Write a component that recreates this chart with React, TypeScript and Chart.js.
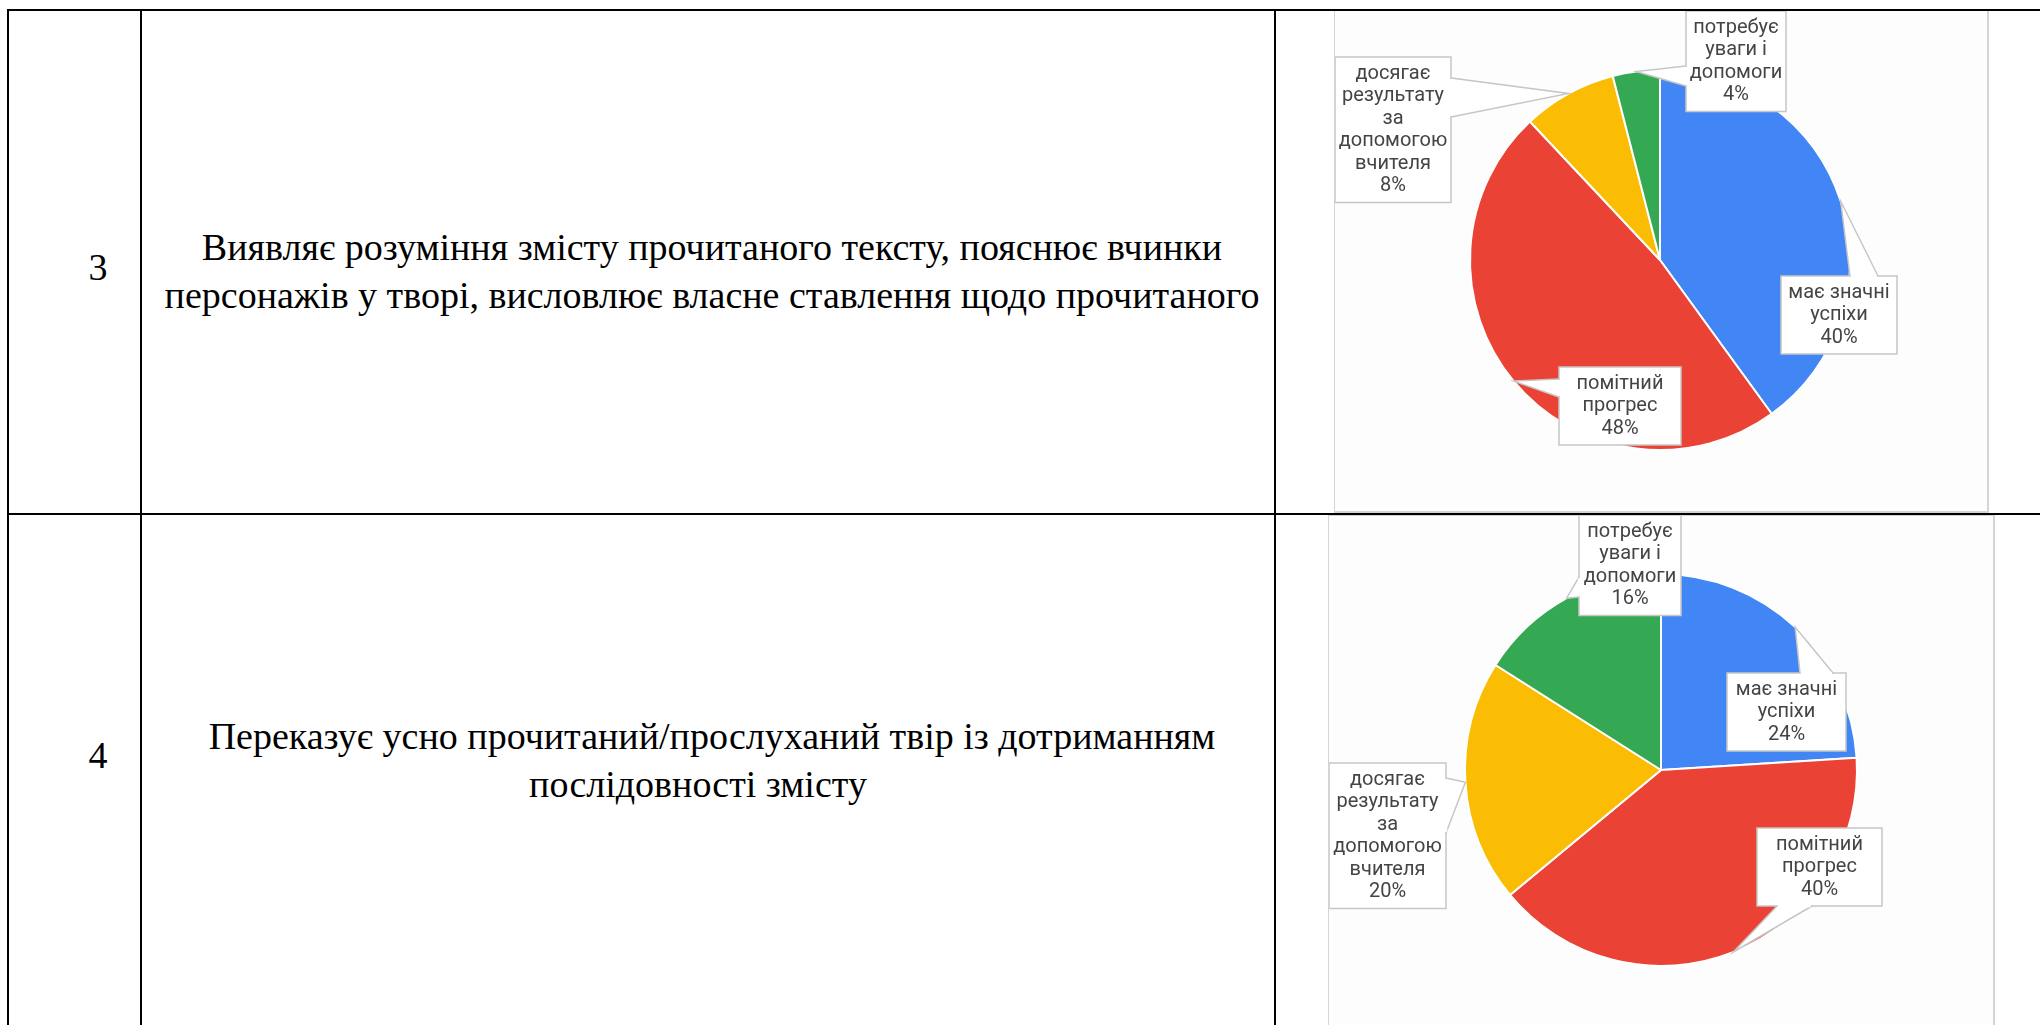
import React, { useEffect, useRef } from 'react';
import { Chart, registerables } from 'chart.js';

Chart.register(...registerables);

// ---- data ----
const categories: string[][] = [
  ['має значні', 'успіхи'],
  ['помітний', 'прогрес'],
  ['досягає', 'результату', 'за', 'допомогою', 'вчителя'],
  ['потребує', 'уваги і', 'допомоги'],
];
const values3 = [40, 48, 8, 4];
const values4 = [24, 40, 20, 16];
const sliceColors = ['#4285F4', '#EA4335', '#FBBC04', '#34A853'];
const rowNumbers = ['3', '4'];
const rowText3 = [
  'Виявляє розуміння змісту прочитаного тексту, пояснює вчинки',
  'персонажів у творі, висловлює власне ставлення щодо прочитаного',
];
const rowText4 = [
  'Переказує усно прочитаний/прослуханий твір із дотриманням',
  'послідовності змісту',
];

// ---- layout (positions only) ----
type Side = 'left' | 'right' | 'top' | 'bottom';
type Callout = { dx: number; dy: number; w: number; side: Side; b0: number; b1: number };
const callouts3: Callout[] = [
  { dx: 121, dy: 16, w: 116, side: 'top', b0: 69, b1: 97 },
  { dx: -101, dy: 107, w: 122, side: 'left', b0: 12, b1: 30 },
  { dx: -325, dy: -203, w: 116, side: 'right', b0: 21, b1: 60 },
  { dx: 26, dy: -249, w: 100, side: 'left', b0: 55, b1: 75 },
];
const callouts4: Callout[] = [
  { dx: 66, dy: -97, w: 119, side: 'top', b0: 73, b1: 106 },
  { dx: 96, dy: 58, w: 125, side: 'bottom', b0: 20, b1: 55 },
  { dx: -332, dy: -7, w: 117, side: 'right', b0: 15, b1: 70 },
  { dx: -82, dy: -255, w: 102, side: 'left', b0: 62, b1: 82 },
];
const lineShift4 = [0, -14];

const PAD = 16.5;
const LINE_H = 22.5;

function makeCalloutPlugin(items: Callout[]) {
  return {
    id: 'callouts',
    afterDatasetsDraw(chart: any) {
      const ctx: CanvasRenderingContext2D = chart.ctx;
      const meta = chart.getDatasetMeta(0);
      const data = chart.data.datasets[0].data as number[];
      const total = data.reduce((a, b) => a + b, 0);
      meta.data.forEach((arc: any, i: number) => {
        const { x, y, startAngle, endAngle, outerRadius } = arc.getProps(
          ['x', 'y', 'startAngle', 'endAngle', 'outerRadius'],
          true
        );
        const mid = (startAngle + endAngle) / 2;
        const ax = x + Math.cos(mid) * outerRadius;
        const ay = y + Math.sin(mid) * outerRadius;
        const c = items[i];
        const lines = [...(chart.data.labels[i] as string[]), Math.round((data[i] / total) * 100) + '%'];
        const h = 2 * PAD + (lines.length - 1) * LINE_H;
        const bx = x + c.dx;
        const by = y + c.dy;
        let p0: [number, number];
        let p1: [number, number];
        if (c.side === 'left') { p0 = [bx, by + c.b0]; p1 = [bx, by + c.b1]; }
        else if (c.side === 'right') { p0 = [bx + c.w, by + c.b0]; p1 = [bx + c.w, by + c.b1]; }
        else if (c.side === 'top') { p0 = [bx + c.b0, by]; p1 = [bx + c.b1, by]; }
        else { p0 = [bx + c.b0, by + h]; p1 = [bx + c.b1, by + h]; }
        ctx.save();
        ctx.fillStyle = '#ffffff';
        ctx.strokeStyle = '#c6c6c6';
        ctx.lineWidth = 1.5;
        ctx.fillRect(bx, by, c.w, h);
        ctx.strokeRect(bx, by, c.w, h);
        ctx.beginPath();
        ctx.moveTo(p0[0], p0[1]);
        ctx.lineTo(ax, ay);
        ctx.lineTo(p1[0], p1[1]);
        ctx.closePath();
        ctx.fill();
        ctx.beginPath();
        ctx.moveTo(p0[0], p0[1]);
        ctx.lineTo(ax, ay);
        ctx.lineTo(p1[0], p1[1]);
        ctx.stroke();
        const ux = p1[0] - p0[0];
        const uy = p1[1] - p0[1];
        const len = Math.hypot(ux, uy) || 1;
        ctx.beginPath();
        ctx.moveTo(p0[0] + (ux / len) * 1.2, p0[1] + (uy / len) * 1.2);
        ctx.lineTo(p1[0] - (ux / len) * 1.2, p1[1] - (uy / len) * 1.2);
        ctx.strokeStyle = '#ffffff';
        ctx.lineWidth = 2.5;
        ctx.stroke();
        ctx.fillStyle = '#444444';
        ctx.font = '20px Roboto';
        ctx.textAlign = 'center';
        ctx.textBaseline = 'middle';
        lines.forEach((t, k) => ctx.fillText(t, bx + c.w / 2, by + PAD + k * LINE_H));
        ctx.restore();
      });
    },
  };
}

type PieProps = {
  values: number[];
  items: Callout[];
  left: number;
  top: number;
  width: number;
  height: number;
  cx: number;
  cy: number;
  r: number;
};

function PieBox({ values, items, left, top, width, height, cx, cy, r }: PieProps) {
  const ref = useRef<HTMLCanvasElement | null>(null);
  useEffect(() => {
    if (!ref.current) return;
    const lx = cx - left;
    const ly = cy - top;
    const chart = new Chart(ref.current, {
      type: 'pie',
      data: {
        labels: categories,
        datasets: [
          {
            data: values,
            backgroundColor: sliceColors,
            borderColor: '#ffffff',
            borderWidth: 2,
            radius: r,
          } as any,
        ],
      },
      options: {
        responsive: false,
        animation: false,
        events: [],
        layout: {
          padding: { left: lx - r, right: width - lx - r, top: ly - r, bottom: height - ly - r },
        },
        plugins: { legend: { display: false }, tooltip: { enabled: false } },
      },
      plugins: [makeCalloutPlugin(items)],
    });
    return () => chart.destroy();
  }, [values, items, left, top, width, height, cx, cy, r]);
  return (
    <div
      style={{
        position: 'absolute',
        left,
        top,
        width,
        height,
        boxSizing: 'border-box',
        background: '#fdfdfd',
        border: '1px solid #d4d4d4',
        borderRightWidth: 2,
        borderBottomWidth: 2,
        overflow: 'hidden',
      }}
    >
      <canvas
        ref={ref}
        width={width}
        height={height}
        style={{ position: 'absolute', left: -1, top: -1, width, height }}
      />
    </div>
  );
}

const lineStyle = (l: number, t: number, w: number, h: number): React.CSSProperties => ({
  position: 'absolute',
  left: l,
  top: t,
  width: w,
  height: h,
  background: '#000',
  zIndex: 5,
});

const textFont = "'Liberation Serif', 'Times New Roman', serif";

function TextCell({ lines, top, shifts }: { lines: string[]; top: number; shifts?: number[] }) {
  return (
    <div
      style={{
        position: 'absolute',
        left: 149,
        top,
        width: 1126,
        textAlign: 'center',
        fontFamily: textFont,
        fontSize: 38,
        lineHeight: '48px',
        color: '#000',
        whiteSpace: 'nowrap',
      }}
    >
      {lines.map((l, i) => (
        <div key={i} style={{ position: 'relative', left: shifts ? shifts[i] : 0 }}>
          {l}
        </div>
      ))}
    </div>
  );
}

function NumCell({ n, cy }: { n: string; cy: number }) {
  return (
    <div
      style={{
        position: 'absolute',
        left: 68,
        top: cy - 24,
        width: 60,
        textAlign: 'center',
        fontFamily: textFont,
        fontSize: 38,
        lineHeight: '48px',
        color: '#000',
      }}
    >
      {n}
    </div>
  );
}

export default function App() {
  return (
    <div
      style={{
        position: 'fixed',
        left: 0,
        top: 0,
        width: 2040,
        height: 1025,
        overflow: 'hidden',
        background: '#fff',
      }}
    >
      <PieBox values={values3} items={callouts3} left={1334} top={10} width={655} height={503} cx={1660} cy={260} r={190} />
      <PieBox values={values4} items={callouts4} left={1328} top={515} width={667} height={512} cx={1661} cy={770} r={196} />

      <NumCell n={rowNumbers[0]} cy={267} />
      <TextCell lines={rowText3} top={223} />
      <NumCell n={rowNumbers[1]} cy={755} />
      <TextCell lines={rowText4} top={712} shifts={lineShift4} />

      <div style={lineStyle(7, 9, 2033, 2)} />
      <div style={lineStyle(7, 9, 2, 1016)} />
      <div style={lineStyle(140, 9, 2, 1016)} />
      <div style={lineStyle(1274, 9, 2, 1016)} />
      <div style={lineStyle(7, 513, 2033, 2)} />
    </div>
  );
}
